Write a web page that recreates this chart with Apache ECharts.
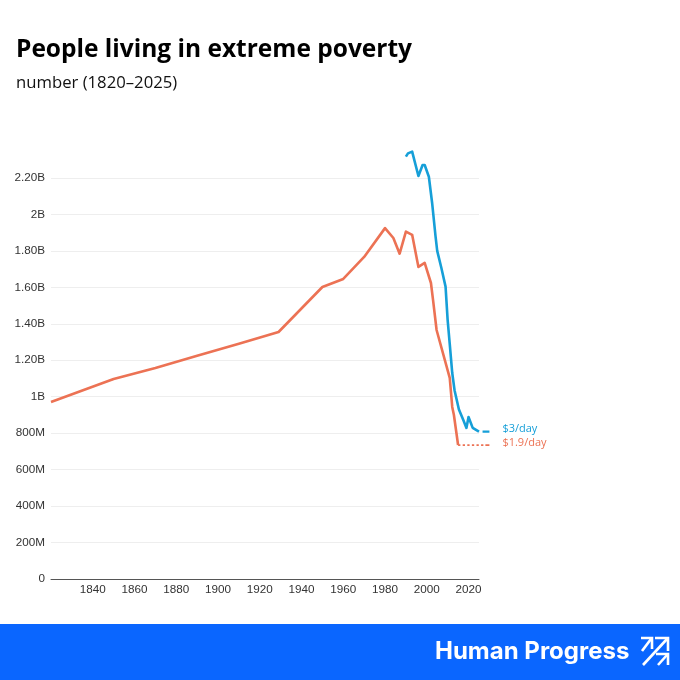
<!DOCTYPE html>
<html><head><meta charset="utf-8">
<script src="https://cdn.jsdelivr.net/npm/echarts@6/dist/echarts.min.js"></script>
<style>html,body{margin:0;padding:0;background:#fff}#c{width:680px;height:680px}</style>
</head><body><div id="c"></div>
<script>
const titleText = 'People living in extreme poverty';
const subtitleText = 'number (1820–2025)';
const brandText = 'Human Progress';
const yTickLabels = {0:'0',200:'200M',400:'400M',600:'600M',800:'800M',1000:'1B',1200:'1.20B',1400:'1.40B',1600:'1.60B',1800:'1.80B',2000:'2B',2200:'2.20B'};
const lowLine = [[1820,971],[1850,1097],[1870,1158],[1890,1225],[1910,1290],[1929,1355],[1950,1602],[1960,1646],[1970,1767],[1980,1925],[1984,1871],[1987,1785],[1990,1906],[1993,1888],[1996,1712],[1999,1734],[2002,1624],[2003,1531],[2004.7,1366],[2011,1103],[2012.2,944],[2013,900],[2015,735]];
const lowDashed = [[2015,735],[2030,735]];
const highLine = [[1990,2317],[1991,2335],[1993,2345],[1996,2211],[1998,2271],[1999,2271],[2001,2207],[2002.6,2060],[2004.2,1880],[2005,1800],[2007,1706],[2009,1604],[2010,1420],[2011,1290],[2012.2,1130],[2013.3,1036],[2015.4,930],[2017.5,872],[2019,829],[2020,889],[2022,829],[2025,808]];
const highDashed = [[2025,808],[2030,808]];
const highName = '$3/day', lowName = '$1.9/day';
const blue = '#169FD8', orange = '#EC7254';

const chart = echarts.init(document.getElementById('c'), null, {renderer:'canvas'});
function line(name,data,color,width,type,label,labelDy){
  return {name,type:'line',xAxisIndex:1,yAxisIndex:1,data,clip:false,showSymbol:false,symbol:'none',silent:true,animation:false,
    lineStyle:{color,width,type,cap:'butt',join:'round'},
    endLabel:label?{show:true,formatter:label,color,fontFamily:'Open Sans',fontSize:11,offset:[5,labelDy]}:{show:false}};
}
const whiteStroke = {stroke:'#fff',lineWidth:2.6,fill:null};
function mark(points){ return {type:'polyline',shape:{points},style:whiteStroke}; }
chart.setOption({
  animation:false,
  backgroundColor:'#fff',
  title:[
    {text:titleText,left:16,top:38,padding:0,textStyle:{fontFamily:'Open Sans',fontWeight:700,fontSize:24.5,color:'#000'}},
    {text:subtitleText,left:16,top:75,padding:0,textStyle:{fontFamily:'Open Sans',fontWeight:400,fontSize:16.7,color:'#111'}}
  ],
  grid:[
    {left:51,top:178,width:428,height:401},
    {left:51,top:178,width:438.4,height:401}
  ],
  xAxis:[
    {gridIndex:0,type:'value',min:1820,max:2025,interval:20,
     axisLine:{show:true,onZero:true,lineStyle:{color:'#555',width:1}},axisTick:{show:false},splitLine:{show:false},
     axisLabel:{margin:5,color:'#333',fontFamily:'Liberation Sans',fontSize:11.7,formatter:v=>v===1820?'':String(v)}},
    {gridIndex:1,type:'value',min:1820,max:2030,show:false,splitLine:{show:false}}
  ],
  yAxis:[
    {gridIndex:0,type:'value',min:0,max:2200,interval:200,
     axisLine:{show:false},axisTick:{show:false},splitLine:{show:true,lineStyle:{color:'#EEEEEE',width:1}},
     axisLabel:{margin:6,color:'#333',fontFamily:'Liberation Sans',fontSize:11.7,padding:[4,0,0,0],formatter:v=>yTickLabels[v]}},
    {gridIndex:1,type:'value',min:0,max:2200,show:false,splitLine:{show:false}}
  ],
  series:[
    line('low',lowLine,orange,2.6,'solid'),
    line('lowDash',lowDashed,orange,1.8,[2.3,2.3,2.3,2.3,2.3,2.3,2.3,2.3,2.3,2.3,2.3,2,6,0],lowName,-2.5),
    line('high',highLine,blue,2.6,'solid'),
    line('highDash',highDashed,blue,2.2,[0.1,3.5,8,0],highName,-3)
  ],
  graphic:[
    {type:'rect',shape:{x:0,y:624,width:680,height:56},style:{fill:'#0A66FF'},silent:true},
    {type:'text',x:435,y:652,style:{text:brandText,fill:'#fff',font:'700 24px Inter',verticalAlign:'middle',align:'left'},silent:true},
    {type:'group',silent:true,children:[
      mark([[641,638],[652,638],[652,649]]), mark([[642,651],[651,639]]),
      mark([[655,638],[668,638],[668,651]]), mark([[643,665],[667,639]]),
      mark([[656,654],[668,654],[668,665]]), mark([[658,665],[667,655]])
    ]}
  ]
});
</script></body></html>
